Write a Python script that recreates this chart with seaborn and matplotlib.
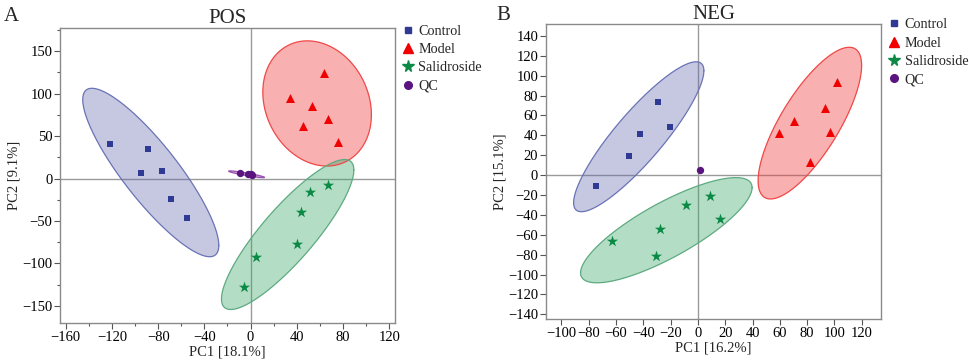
import numpy as np
import pandas as pd
import matplotlib
matplotlib.use("Agg")
import matplotlib.pyplot as plt
import seaborn as sns
from matplotlib.lines import Line2D
from matplotlib.ticker import MultipleLocator

# ================= DATA =================
groups = ["Control", "Model", "Salidroside", "QC"]

# POS scores
pos_control_x = [-122.1, -89.0, -94.7, -77.1, -69.0, -55.1]
pos_control_y = [41.1, 34.8, 6.1, 8.5, -24.6, -47.0]
pos_model_x = [63.2, 34.0, 53.0, 45.2, 66.9, 75.3]
pos_model_y = [124.0, 95.0, 86.0, 62.3, 70.6, 43.5]
pos_sal_x = [66.9, 51.6, 43.5, 40.6, 5.1, -5.6]
pos_sal_y = [-7.3, -15.9, -39.5, -77.3, -93.0, -128.4]
pos_qc_x = [-9.0, -2.0, 0.0, 1.5]
pos_qc_y = [6.2, 5.2, 4.8, 4.0]

# NEG scores
neg_control_x = [-74.6, -50.4, -42.3, -29.2, -20.6]
neg_control_y = [-10.9, 19.2, 41.8, 73.9, 48.8]
neg_model_x = [59.2, 70.2, 82.2, 93.0, 96.8, 102.0]
neg_model_y = [42.7, 54.8, 13.6, 67.2, 43.8, 94.0]
neg_sal_x = [-62.9, -27.9, -30.6, -8.4, 8.9, 16.3]
neg_sal_y = [-65.9, -54.5, -81.7, -30.4, -21.3, -44.5]
neg_qc_x = [1.4]
neg_qc_y = [5.1]

# confidence ellipses: centre x, centre y, half width, half height, correlation
pos_ell = {
    "Control": (-86.4, 7.1, 58.9, 99.3, -0.865),
    "Model": (57.6, 88.5, 47.0, 73.8, -0.18),
    "Salidroside": (32.1, -66.0, 57.3, 88.4, 0.86),
    "QC": (-3.5, 5.0, 15.5, 4.0, -0.92),
}
neg_ell = {
    "Control": (-43.3, 38.6, 47.7, 75.4, 0.88),
    "Model": (82.0, 52.3, 37.9, 76.3, 0.76),
    "Salidroside": (-23.1, -55.4, 62.8, 52.9, 0.81),
}

# ================= STYLE =================
cores = {"Control": "#2E3A94", "Model": "#F00000", "Salidroside": "#0A8A45", "QC": "#5A1480"}
preench = {"Control": ("#5F67AA", 0.36), "Model": ("#F03A3A", 0.40),
           "Salidroside": ("#3CA86A", 0.38), "QC": ("#9A4FB8", 0.45)}
bordas = {"Control": "#6A73B5", "Model": "#F04848", "Salidroside": "#5DAA80", "QC": "#9A50B0"}
marcadores = {"Control": "s", "Model": "^", "Salidroside": "*", "QC": "o"}
tamanhos = {"Control": 24, "Model": 42, "Salidroside": 72, "QC": 28}

sns.set_theme(style="white")
plt.rcParams["font.family"] = ["Liberation Serif", "DejaVu Serif"]


def montar_df(xs, ys):
    linhas = []
    for g, (x, y) in zip(groups, zip(xs, ys)):
        for a, b in zip(x, y):
            linhas.append({"PC1": a, "PC2": b, "Grupo": g})
    return pd.DataFrame(linhas)


def desenhar_elipse(ax, params, g):
    cx, cy, hw, hh, r = params
    t = np.linspace(0, 2 * np.pi, 300)
    ex = cx + hw * np.cos(t)
    ey = cy + hh * (r * np.cos(t) + np.sqrt(1 - r ** 2) * np.sin(t))
    cor, alfa = preench[g]
    ax.fill(ex, ey, color=cor, alpha=alfa, lw=0, zorder=1)
    ax.plot(ex, ey, color=bordas[g], lw=0.9, zorder=1.5)


def painel(ax, df, elipses, xlim, ylim, xmaj, ymaj, xmin, ymin, xlabel, ylabel, titulo):
    ax.axhline(0, color="#9a9a9a", lw=1.0, zorder=0.5)
    ax.axvline(0, color="#9a9a9a", lw=1.0, zorder=0.5)
    for g, p in elipses.items():
        desenhar_elipse(ax, p, g)
    for g in groups:
        sub = df[df["Grupo"] == g]
        sns.scatterplot(data=sub, x="PC1", y="PC2", ax=ax, color=cores[g],
                        marker=marcadores[g], s=tamanhos[g], linewidth=0, zorder=3,
                        legend=False)
    ax.set_xlim(*xlim)
    ax.set_ylim(*ylim)
    ax.xaxis.set_major_locator(MultipleLocator(xmaj))
    ax.yaxis.set_major_locator(MultipleLocator(ymaj))
    if xmin:
        ax.xaxis.set_minor_locator(MultipleLocator(xmin))
    if ymin:
        ax.yaxis.set_minor_locator(MultipleLocator(ymin))
    ax.tick_params(axis="both", which="both", direction="out", bottom=True, left=True,
                   colors="#555555", labelcolor="black", labelsize=10.5, pad=1.5)
    ax.tick_params(which="major", length=4, width=0.8)
    ax.tick_params(which="minor", length=2.5, width=0.8)
    for s in ax.spines.values():
        s.set_color("#8a8a8a")
        s.set_linewidth(1.0)
    ax.set_xlabel(xlabel, fontsize=10.5, labelpad=1)
    ax.set_ylabel(ylabel, fontsize=10.5, labelpad=1)
    ax.set_title(titulo, fontsize=15, pad=3)
    ax.grid(False)


fig = plt.figure(figsize=(9.69, 3.63), dpi=100)
ax1 = fig.add_axes([0.0619, 0.110, 0.3457, 0.813])
ax2 = fig.add_axes([0.5632, 0.1212, 0.3460, 0.8127])

df_pos = montar_df([pos_control_x, pos_model_x, pos_sal_x, pos_qc_x],
                   [pos_control_y, pos_model_y, pos_sal_y, pos_qc_y])
df_neg = montar_df([neg_control_x, neg_model_x, neg_sal_x, neg_qc_x],
                   [neg_control_y, neg_model_y, neg_sal_y, neg_qc_y])

painel(ax1, df_pos, pos_ell, (-165, 125), (-170.4, 177.5), 40, 50, 20, 25,
       "PC1 [18.1%]", "PC2 [9.1%]", "POS")
painel(ax2, df_neg, neg_ell, (-111.4, 134.1), (-144.7, 152), 20, 20, None, None,
       "PC1 [16.2%]", "PC2 [15.1%]", "NEG")

# legenda
handles = [Line2D([], [], color=cores[g], marker=marcadores[g], ls="",
                  markersize={"Control": 5, "Model": 6.5, "Salidroside": 8.5, "QC": 5.5}[g])
           for g in groups]
for pos in [(0.415, 0.932), (0.917, 0.950)]:
    fig.legend(handles, groups, loc="upper left", bbox_to_anchor=pos, frameon=False,
               fontsize=10.2, handlelength=0.8, handletextpad=0.35, labelspacing=0.38,
               borderaxespad=0, borderpad=0)

fig.text(0.004, 0.955, "A", fontsize=15, ha="left", va="center")
fig.text(0.512, 0.958, "B", fontsize=15, ha="left", va="center")

fig.savefig("out.png", dpi=100)
